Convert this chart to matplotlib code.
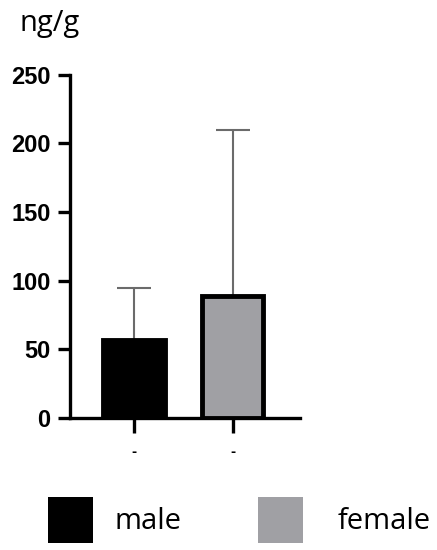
import matplotlib
matplotlib.use("Agg")
import matplotlib.pyplot as plt
from matplotlib.patches import Rectangle

categories = ["male", "female"]
means = [57, 89]
errors_upper = [38, 121]
y_ticks = [0, 50, 100, 150, 200, 250]
x_tick_labels = ["-", "-"]
unit_label = "ng/g"
bar_colors = ["#000000", "#a0a0a4"]

fig = plt.figure(figsize=(4.37, 5.5), dpi=100)
ax = fig.add_axes([0.160, 0.240, 0.526, 0.624])

xs = list(range(len(categories)))
ax.bar(xs, means, width=0.62, color=bar_colors, edgecolor="black",
       linewidth=3.5, zorder=3)
ax.errorbar(xs, means, yerr=[[0] * len(means), errors_upper], fmt="none",
            ecolor="#6b6b6b", elinewidth=1.5, capsize=12, capthick=1.5, zorder=2)

ax.set_xlim(-0.65, 1.68)
ax.set_ylim(0, 250)
ax.set_yticks(y_ticks)
ax.set_yticklabels([str(v) for v in y_ticks], fontfamily="Liberation Sans",
                   fontweight="bold", fontsize=17)
ax.set_xticks(xs)
ax.set_xticklabels(x_tick_labels, fontsize=9, fontweight="bold")
for s in ["top", "right"]:
    ax.spines[s].set_visible(False)
for s in ["left", "bottom"]:
    ax.spines[s].set_linewidth(2.4)
ax.tick_params(axis="y", length=9, width=2.4, pad=5)
ax.tick_params(axis="x", length=11, width=2.4, pad=9)

fig.text(0.045, 0.958, unit_label, fontfamily="Open Sans", fontsize=21,
         ha="left", va="center")

# legend
leg_x = [0.110, 0.590]
text_x = [0.262, 0.773]
for i, cat in enumerate(categories):
    fig.add_artist(Rectangle((leg_x[i], 0.013), 0.103, 0.083,
                             transform=fig.transFigure, facecolor=bar_colors[i],
                             edgecolor="none"))
    fig.text(text_x[i], 0.052, cat, fontfamily="Open Sans", fontsize=21,
             ha="left", va="center")

fig.savefig("out.png", dpi=100)
